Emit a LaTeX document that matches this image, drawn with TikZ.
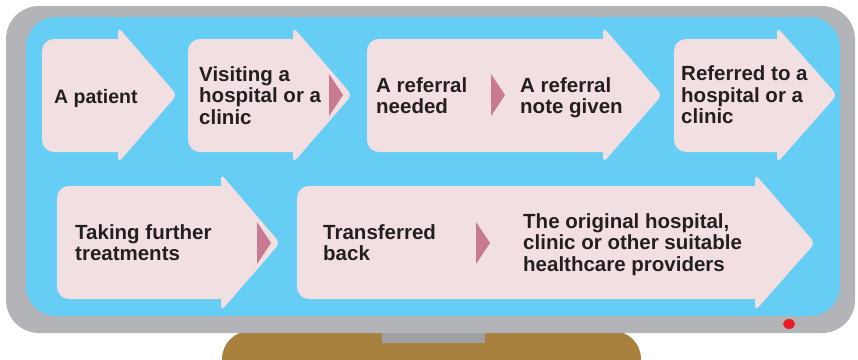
\documentclass[tikz,border=0pt]{standalone}
\usepackage{fontspec}
\setmainfont{Liberation Sans}
\definecolor{framec}{HTML}{B3B4B7}
\definecolor{screenc}{HTML}{66CDF5}
\definecolor{pinkc}{HTML}{F2DFE2}
\definecolor{markc}{HTML}{C87A92}
\definecolor{standc}{HTML}{A8813F}
\definecolor{standg}{HTML}{A0A1A5}
\definecolor{ledc}{HTML}{EC1C24}
\definecolor{textc}{HTML}{231F20}
\newcommand\mlines[1]{\begin{tabular}[t]{@{}l@{}}#1\end{tabular}}
\newcommand\flowarrow[8]{%
  \fill[pinkc, rounded corners=12pt] (#1,#4) rectangle (#2+10,#5);
  \fill[pinkc, rounded corners=5pt] (#2,#6) -- (#3,#8) -- (#2,#7) -- cycle;
}
\newcommand\marker[3]{%
  \fill[markc] (#1,#2-21) -- (#1+14,#2) -- (#1,#2+21) -- cycle;
}
\tikzset{
  txt/.style={anchor=base west, inner sep=0pt, text=textc,
    font=\fontsize{20.5}{21.5}\selectfont\bfseries},
  txtsmall/.style={txt, font=\fontsize{19.5}{21.5}\selectfont\bfseries}
}
\begin{document}
\begin{tikzpicture}[x=1pt,y=-1pt]
\useasboundingbox (0,0) rectangle (858,359);
% stand
\begin{scope}
  \clip (0,0) rectangle (858,359);
  \fill[standc, rounded corners=28pt] (222,331) rectangle (641,400);
\end{scope}
\fill[standg] (382,330) rectangle (485,343);
% monitor
\fill[framec, rounded corners=33pt] (6,6) rectangle (855,333);
\fill[screenc, rounded corners=30pt] (26,17) rectangle (840,316);
\fill[ledc] (789,324) ellipse [x radius=6pt, y radius=5pt];
% row 1 arrows
\flowarrow{42}{118}{177}{39}{152}{27}{163}{95}
\flowarrow{188}{293}{352}{39}{152}{27}{163}{95}
\flowarrow{367}{603}{662}{39}{152}{27}{163}{95}
\flowarrow{674}{777}{837}{39}{152}{27}{163}{95}
% row 2 arrows
\flowarrow{57}{221}{280}{186}{299}{174}{311}{243}
\flowarrow{297}{755}{815}{186}{299}{174}{311}{243}
% markers
\marker{329}{95}{}
\marker{491}{95}{}
\marker{257}{243}{}
\marker{476}{243}{}
% texts
\node[txtsmall] (t1) at (54,103) {\mlines{A patient}};
\node[txt] (t2) at (199,81) {\mlines{Visiting a\\hospital or a\\clinic}};
\node[txt] (t3) at (376,92) {\mlines{A referral\\needed}};
\node[txt] (t4) at (520,92) {\mlines{A referral\\note given}};
\node[txt] (t5) at (681,80.5) {\mlines{Referred to a\\hospital or a\\clinic}};
\node[txt] (t6) at (75,239) {\mlines{Taking further\\treatments}};
\node[txt] (t7) at (323,239) {\mlines{Transferred\\back}};
\node[txt] (t8) at (523,228) {\mlines{The original hospital,\\clinic or other suitable\\healthcare providers}};
\end{tikzpicture}
\end{document}
